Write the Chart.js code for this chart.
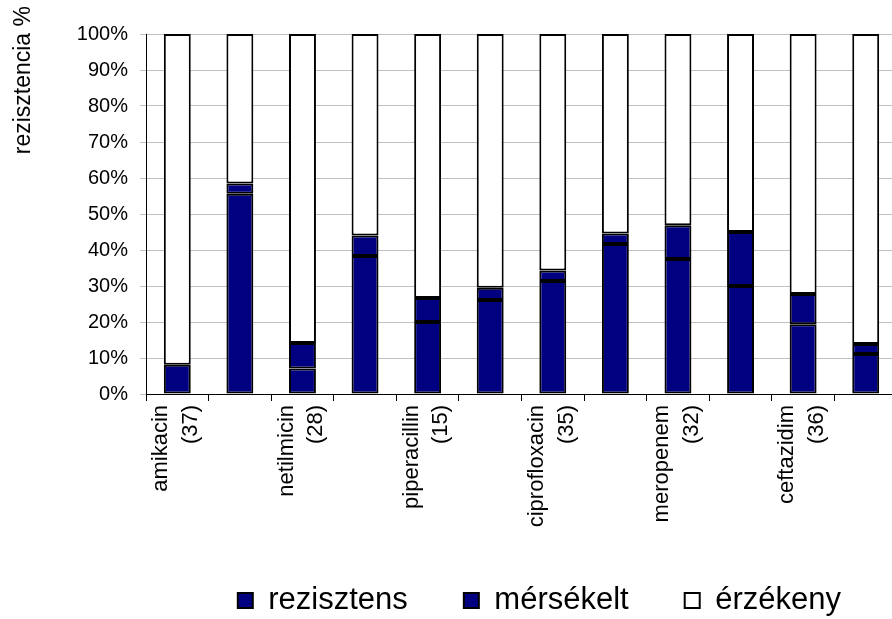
<!DOCTYPE html>
<html>
<head>
<meta charset="utf-8">
<title>rezisztencia</title>
<script src="https://cdn.jsdelivr.net/npm/chart.js@4.4.1/dist/chart.umd.min.js"></script>
<style>
    html, body { margin: 0; padding: 0; background: #fff; overflow: hidden; }
    #wrap { width: 910px; height: 626px; }
</style>
</head>
<body>
<div id="wrap"><canvas id="resChart"></canvas></div>
<script>
// only every other category name is printed on the axis (as in the original)
const categories = [
    ['amikacin', '(37)'], ' ',
    ['netilmicin', '(28)'], ' ',
    ['piperacillin', '(15)'], ' ',
    ['ciprofloxacin', '(35)'], ' ',
    ['meropenem', '(32)'], ' ',
    ['ceftazidim', '(36)'], ' '
];
const seriesNames = ['rezisztens', 'mérsékelt', 'érzékeny'];
const rezisztens = [8.1, 55.6, 7.1, 38.3, 20.0, 26.1, 31.4, 41.7, 37.5, 30.0, 19.4, 11.1];
const merseklet = [0, 2.9, 7.1, 5.7, 6.7, 3.4, 2.9, 2.9, 9.4, 15.0, 8.4, 2.8];
const erzekeny = rezisztens.map((r, i) => +(100 - r - merseklet[i]).toFixed(1));
const yTicks = [0, 10, 20, 30, 40, 50, 60, 70, 80, 90, 100];
const yTitle = 'rezisztencia %';

const FONT = '"Liberation Sans", Arial, sans-serif';
Chart.defaults.font.family = FONT;
Chart.defaults.color = '#000';

// axis title sits at the top-left corner, outside the plot
const yTitlePlugin = {
    id: 'yTitle',
    afterDraw(chart) {
        const ctx = chart.ctx;
        ctx.save();
        ctx.translate(24, 6);
        ctx.rotate(-Math.PI / 2);
        ctx.font = '23px ' + FONT;
        ctx.fillStyle = '#000';
        ctx.textAlign = 'right';
        ctx.textBaseline = 'middle';
        ctx.fillText(yTitle, 0, 0);
        ctx.restore();
    }
};

const barStyle = { borderColor: '#000', borderWidth: 2, borderSkipped: false,
    barPercentage: 0.43, categoryPercentage: 1 };

new Chart(document.getElementById('resChart'), {
    type: 'bar',
    data: {
        labels: categories,
        datasets: [
            { label: seriesNames[0], data: rezisztens, backgroundColor: '#000080', ...barStyle },
            { label: seriesNames[1], data: merseklet, backgroundColor: '#000080', ...barStyle },
            { label: seriesNames[2], data: erzekeny, backgroundColor: '#ffffff', ...barStyle }
        ]
    },
    options: {
        responsive: true,
        maintainAspectRatio: false,
        animation: false,
        layout: { padding: { top: 34, left: 0, right: 13, bottom: 0 } },
        scales: {
            x: {
                stacked: true,
                grid: { display: true, drawOnChartArea: false, offset: true, color: '#000', tickLength: 7 },
                border: { color: '#000', width: 1 },
                ticks: { autoSkip: false, maxRotation: 90, minRotation: 90, padding: 4, labelOffset: -16,
                    font: { size: 22, lineHeight: 1.35 } },
                afterFit(scale) { scale.height = 135; }
            },
            y: {
                stacked: true,
                min: 0,
                max: 100,
                afterBuildTicks(scale) { scale.ticks = yTicks.map(v => ({ value: v })); },
                grid: { color: '#c0c0c0', tickLength: 6 },
                border: { color: '#000', width: 1 },
                ticks: { padding: 12, font: { size: 20 }, callback: v => v + '%' },
                afterFit(scale) { scale.width = 146; }
            }
        },
        plugins: {
            legend: {
                position: 'bottom',
                align: 'end',
                fullSize: false,
                labels: { boxWidth: 15, boxHeight: 15, padding: 56, font: { size: 31 } }
            },
            tooltip: { enabled: false }
        }
    },
    plugins: [yTitlePlugin]
});
</script>
</body>
</html>
